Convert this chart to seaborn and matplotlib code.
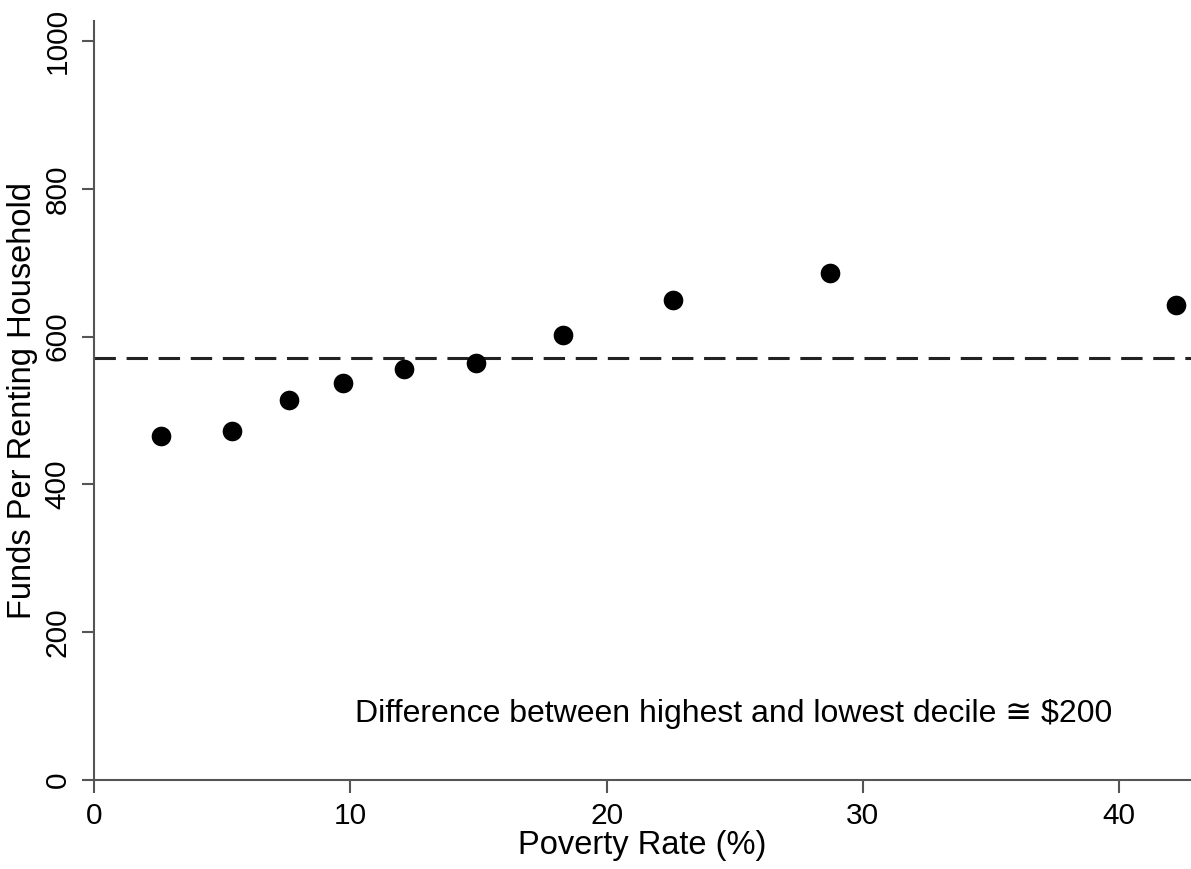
import pandas as pd
import matplotlib.pyplot as plt
import seaborn as sns

sns.set_theme(style='white')
plt.rcParams['font.family'] = ['Liberation Sans', 'DejaVu Sans']
plt.rcParams['text.color'] = 'black'
plt.rcParams['axes.labelcolor'] = 'black'
plt.rcParams['xtick.color'] = 'black'
plt.rcParams['ytick.color'] = 'black'

poverty_rate = [2.6, 5.4, 7.6, 9.7, 12.1, 14.9, 18.3, 22.6, 28.7, 42.2]
funds = [466, 472, 514, 537, 556, 564, 602, 650, 686, 643]
mean_funds = 571
note = 'Difference between highest and lowest decile \u2245 $200'

df = pd.DataFrame({'poverty': poverty_rate, 'funds': funds})

fig = plt.figure(figsize=(11.91, 8.69), dpi=100)
ax = fig.add_axes([0.0789, 0.1024, 0.9211, 0.8734])

sns.scatterplot(data=df, x='poverty', y='funds', color='black', s=200,
                edgecolor='black', linewidth=0, ax=ax, zorder=3)
ax.axhline(mean_funds, color='#222222', lw=2.2, ls=(0, (7, 3.5)), zorder=2)

ax.set_xlim(0, 42.8)
ax.set_ylim(0, 1027)
ax.set_xticks([0, 10, 20, 30, 40])
ax.set_yticks([0, 200, 400, 600, 800, 1000])
ax.tick_params(axis='both', which='both', direction='out', length=9, width=1.5,
               color='#555555', labelcolor='black', labelsize=21.5, pad=7,
               left=True, bottom=True)
for lbl in ax.get_yticklabels():
    lbl.set_rotation(90)
    lbl.set_va('center')

for side in ['top', 'right']:
    ax.spines[side].set_visible(False)
for side in ['left', 'bottom']:
    ax.spines[side].set_color('#555555')
    ax.spines[side].set_linewidth(1.5)

ax.set_xlabel('Poverty Rate (%)', fontsize=23.5, labelpad=0)
ax.set_ylabel('Funds Per Renting Household', fontsize=23.5, labelpad=4)
ax.text(10.2, 90, note, fontsize=23, ha='left', va='center', color='black')

fig.savefig('out.png', dpi=100)
